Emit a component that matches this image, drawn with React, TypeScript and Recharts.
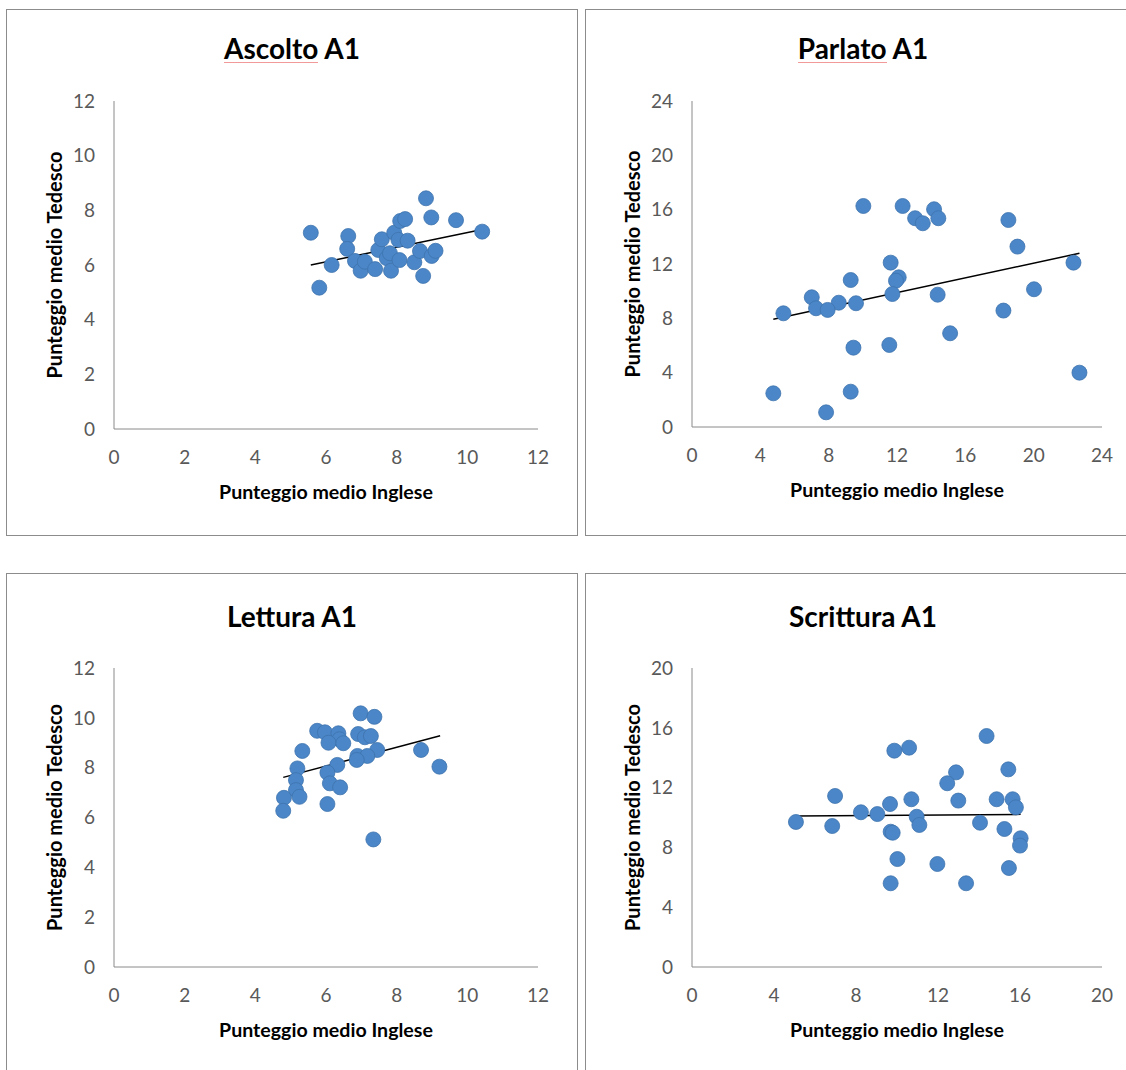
import React from 'react';
import { ScatterChart, Scatter, XAxis, YAxis, ReferenceLine, Label } from 'recharts';

// ---------- DATA ----------
const ascoltoIng = [5.57, 5.81, 6.16, 6.63, 6.6, 6.82, 6.98, 7.1, 7.39, 7.48, 7.58, 7.72, 7.81, 7.84, 7.93, 8.05, 8.08, 8.1, 8.24, 8.31, 8.5, 8.66, 8.75, 8.83, 8.98, 8.99, 9.1, 9.68, 10.42];
const ascoltoTed = [7.18, 5.17, 6.0, 7.06, 6.59, 6.15, 5.79, 6.12, 5.85, 6.55, 6.94, 6.25, 6.43, 5.79, 7.18, 6.92, 6.18, 7.61, 7.68, 6.89, 6.1, 6.51, 5.6, 8.44, 7.74, 6.33, 6.52, 7.64, 7.22];
const ascoltoTrend = [[5.57, 6.0], [10.42, 7.3]];

const parlatoIng = [10.03, 12.33, 13.06, 13.51, 14.17, 14.42, 18.52, 19.05, 22.33, 11.63, 9.29, 12.1, 11.94, 7.01, 8.59, 7.26, 7.94, 9.6, 11.73, 14.38, 5.35, 20.02, 18.23, 15.11, 9.45, 11.55, 22.68, 4.76, 9.29, 7.85];
const parlatoTed = [16.27, 16.27, 15.37, 15.0, 16.03, 15.37, 15.24, 13.28, 12.1, 12.1, 10.82, 11.02, 10.77, 9.55, 9.15, 8.74, 8.62, 9.11, 9.79, 9.74, 8.37, 10.14, 8.57, 6.9, 5.84, 6.04, 4.0, 2.48, 2.6, 1.08];
const parlatoTrend = [[4.76, 7.93], [22.68, 12.79]];

const letturaIng = [6.98, 7.37, 5.75, 5.97, 6.35, 6.91, 7.1, 7.27, 6.38, 6.07, 6.49, 5.33, 7.45, 8.69, 6.89, 7.17, 6.87, 6.32, 5.19, 6.04, 9.21, 5.15, 6.11, 6.4, 5.15, 5.25, 4.81, 4.79, 6.04, 7.34];
const letturaTed = [10.18, 10.04, 9.48, 9.42, 9.38, 9.35, 9.22, 9.27, 9.14, 9.0, 8.98, 8.67, 8.71, 8.71, 8.47, 8.47, 8.31, 8.11, 7.97, 7.8, 8.04, 7.5, 7.37, 7.21, 7.1, 6.83, 6.79, 6.27, 6.54, 5.12];
const letturaTrend = [[4.79, 7.61], [9.23, 9.28]];

const scritturaIng = [14.37, 9.87, 10.59, 15.43, 12.88, 12.45, 6.98, 10.7, 12.99, 14.86, 15.64, 15.8, 9.66, 8.24, 9.04, 10.96, 11.09, 14.05, 5.07, 6.84, 15.24, 9.69, 9.79, 16.03, 16.0, 10.02, 11.97, 15.46, 9.69, 13.37];
const scritturaTed = [15.45, 14.47, 14.67, 13.22, 13.02, 12.29, 11.44, 11.22, 11.13, 11.22, 11.22, 10.68, 10.9, 10.35, 10.23, 10.05, 9.5, 9.65, 9.7, 9.43, 9.23, 9.05, 8.98, 8.61, 8.12, 7.22, 6.89, 6.62, 5.6, 5.6];
const scritturaTrend = [[5.07, 10.1], [16.03, 10.21]];

const ticks12 = [0, 2, 4, 6, 8, 10, 12];
const ticks24 = [0, 4, 8, 12, 16, 20, 24];
const ticks20 = [0, 4, 8, 12, 16, 20];

// title = [word, rest, spell-check underline on first word as seen in the source]
const titles: [string, string, boolean][] = [
  ['Ascolto', ' A1', true],
  ['Parlato', ' A1', true],
  ['Lettura', ' A1', false],
  ['Scrittura', ' A1', false],
];
const xTitle = 'Punteggio medio Inglese';
const yTitle = 'Punteggio medio Tedesco';

// ---------- STYLE ----------
const FONT = 'Lato, "Open Sans", sans-serif';
const DOT_FILL = '#4a86c8';
const DOT_STROKE = '#3f73ad';
const AXIS = '#8a8a8a';
const TICK = '#595959';

const Dot = (p: any) => (
  <circle cx={p.cx} cy={p.cy} r={7.5} fill={DOT_FILL} stroke={DOT_STROKE} strokeWidth={0.8} />
);

const XLabel = (props: any) => {
  const vb = props.viewBox;
  const x = vb.x + vb.width / 2;
  const y = vb.y + 62;
  return (
    <text x={x} y={y} textAnchor="middle" dominantBaseline="central" fill="#000" fontFamily={FONT} fontWeight={700} fontSize={19.6}>
      {xTitle}
    </text>
  );
};

const YLabel = (props: any) => {
  const vb = props.viewBox;
  const x = vb.x + vb.width - 60;
  const y = vb.y + vb.height / 2;
  return (
    <text x={x} y={y} transform={`rotate(-90 ${x} ${y})`} textAnchor="middle" dominantBaseline="central" fill="#000" fontFamily={FONT} fontWeight={700} fontSize={20}>
      {yTitle}
    </text>
  );
};

type Cfg = {
  box: { x: number; y: number; w: number; h: number };
  plot: { x0: number; x1: number; y0: number; y1: number };
  title: [string, string, boolean];
  titleY: number;
  xDomain: [number, number];
  xTicks: number[];
  yDomain: [number, number];
  yTicks: number[];
  xs: number[];
  ys: number[];
  trend: number[][];
};

function Panel({ cfg }: { cfg: Cfg }) {
  const { box, plot } = cfg;
  const yw = 50;
  const xh = 70;
  const margin = {
    top: plot.y0 - box.y,
    bottom: box.h - (plot.y1 - box.y) - xh,
    left: plot.x0 - box.x - yw,
    right: box.w - (plot.x1 - box.x),
  };
  const data = cfg.xs.map((x, i) => ({ x, y: cfg.ys[i] }));
  const tickStyle = { fill: TICK, fontSize: 19, fontFamily: FONT };
  const [w1, w2, underline] = cfg.title;
  return (
    <>
      <div
        style={{
          position: 'absolute',
          left: box.x,
          top: box.y,
          width: box.w,
          height: box.h,
          border: '1px solid #8c8c8c',
          boxSizing: 'border-box',
        }}
      />
      <div
        style={{
          position: 'absolute',
          left: box.x,
          top: cfg.titleY - 20,
          width: box.w,
          height: 40,
          lineHeight: '40px',
          textAlign: 'center',
          fontFamily: FONT,
          fontWeight: 700,
          fontSize: 28,
          color: '#000',
        }}
      >
        <span
          style={
            underline
              ? {
                  display: 'inline-block',
                  lineHeight: '28px',
                  borderBottom: '1px solid #f29a9a',
                }
              : undefined
          }
        >
          {w1}
        </span>
        {w2}
      </div>
      <div style={{ position: 'absolute', left: box.x, top: box.y }}>
        <ScatterChart width={box.w} height={box.h} margin={margin}>
          <XAxis
            type="number"
            dataKey="x"
            domain={cfg.xDomain}
            ticks={cfg.xTicks}
            interval={0}
            height={xh}
            axisLine={{ stroke: AXIS, strokeWidth: 1 }}
            tickLine={false}
            tickSize={6}
            tickMargin={16}
            tick={tickStyle}
          >
            <Label content={XLabel} />
          </XAxis>
          <YAxis
            type="number"
            dataKey="y"
            domain={cfg.yDomain}
            ticks={cfg.yTicks}
            interval={0}
            width={yw}
            axisLine={{ stroke: AXIS, strokeWidth: 1 }}
            tickLine={false}
            tickSize={6}
            tickMargin={13}
            tick={tickStyle}
          >
            <Label content={YLabel} />
          </YAxis>
          <Scatter data={data} shape={Dot} isAnimationActive={false} />
          <ReferenceLine
            segment={[
              { x: cfg.trend[0][0], y: cfg.trend[0][1] },
              { x: cfg.trend[1][0], y: cfg.trend[1][1] },
            ]}
            stroke="#000"
            strokeWidth={1.5}
            ifOverflow="visible"
          />
        </ScatterChart>
      </div>
    </>
  );
}

const panels: Cfg[] = [
  {
    box: { x: 6, y: 9, w: 572, h: 527 },
    plot: { x0: 114, x1: 538, y0: 101, y1: 429 },
    title: titles[0],
    titleY: 48,
    xDomain: [0, 12],
    xTicks: ticks12,
    yDomain: [0, 12],
    yTicks: ticks12,
    xs: ascoltoIng,
    ys: ascoltoTed,
    trend: ascoltoTrend,
  },
  {
    box: { x: 585, y: 9, w: 556, h: 527 },
    plot: { x0: 692, x1: 1102, y0: 101, y1: 427 },
    title: titles[1],
    titleY: 48,
    xDomain: [0, 24],
    xTicks: ticks24,
    yDomain: [0, 24],
    yTicks: ticks24,
    xs: parlatoIng,
    ys: parlatoTed,
    trend: parlatoTrend,
  },
  {
    box: { x: 6, y: 573, w: 572, h: 520 },
    plot: { x0: 114, x1: 538, y0: 668, y1: 967 },
    title: titles[2],
    titleY: 616,
    xDomain: [0, 12],
    xTicks: ticks12,
    yDomain: [0, 12],
    yTicks: ticks12,
    xs: letturaIng,
    ys: letturaTed,
    trend: letturaTrend,
  },
  {
    box: { x: 585, y: 573, w: 556, h: 520 },
    plot: { x0: 692, x1: 1102, y0: 668, y1: 967 },
    title: titles[3],
    titleY: 616,
    xDomain: [0, 20],
    xTicks: ticks20,
    yDomain: [0, 20],
    yTicks: ticks20,
    xs: scritturaIng,
    ys: scritturaTed,
    trend: scritturaTrend,
  },
];

export default function App() {
  return (
    <div
      style={{
        position: 'absolute',
        left: 0,
        top: 0,
        width: 1126,
        height: 1070,
        overflow: 'hidden',
        background: '#fff',
      }}
    >
      {panels.map((p, i) => (
        <Panel key={i} cfg={p} />
      ))}
    </div>
  );
}
